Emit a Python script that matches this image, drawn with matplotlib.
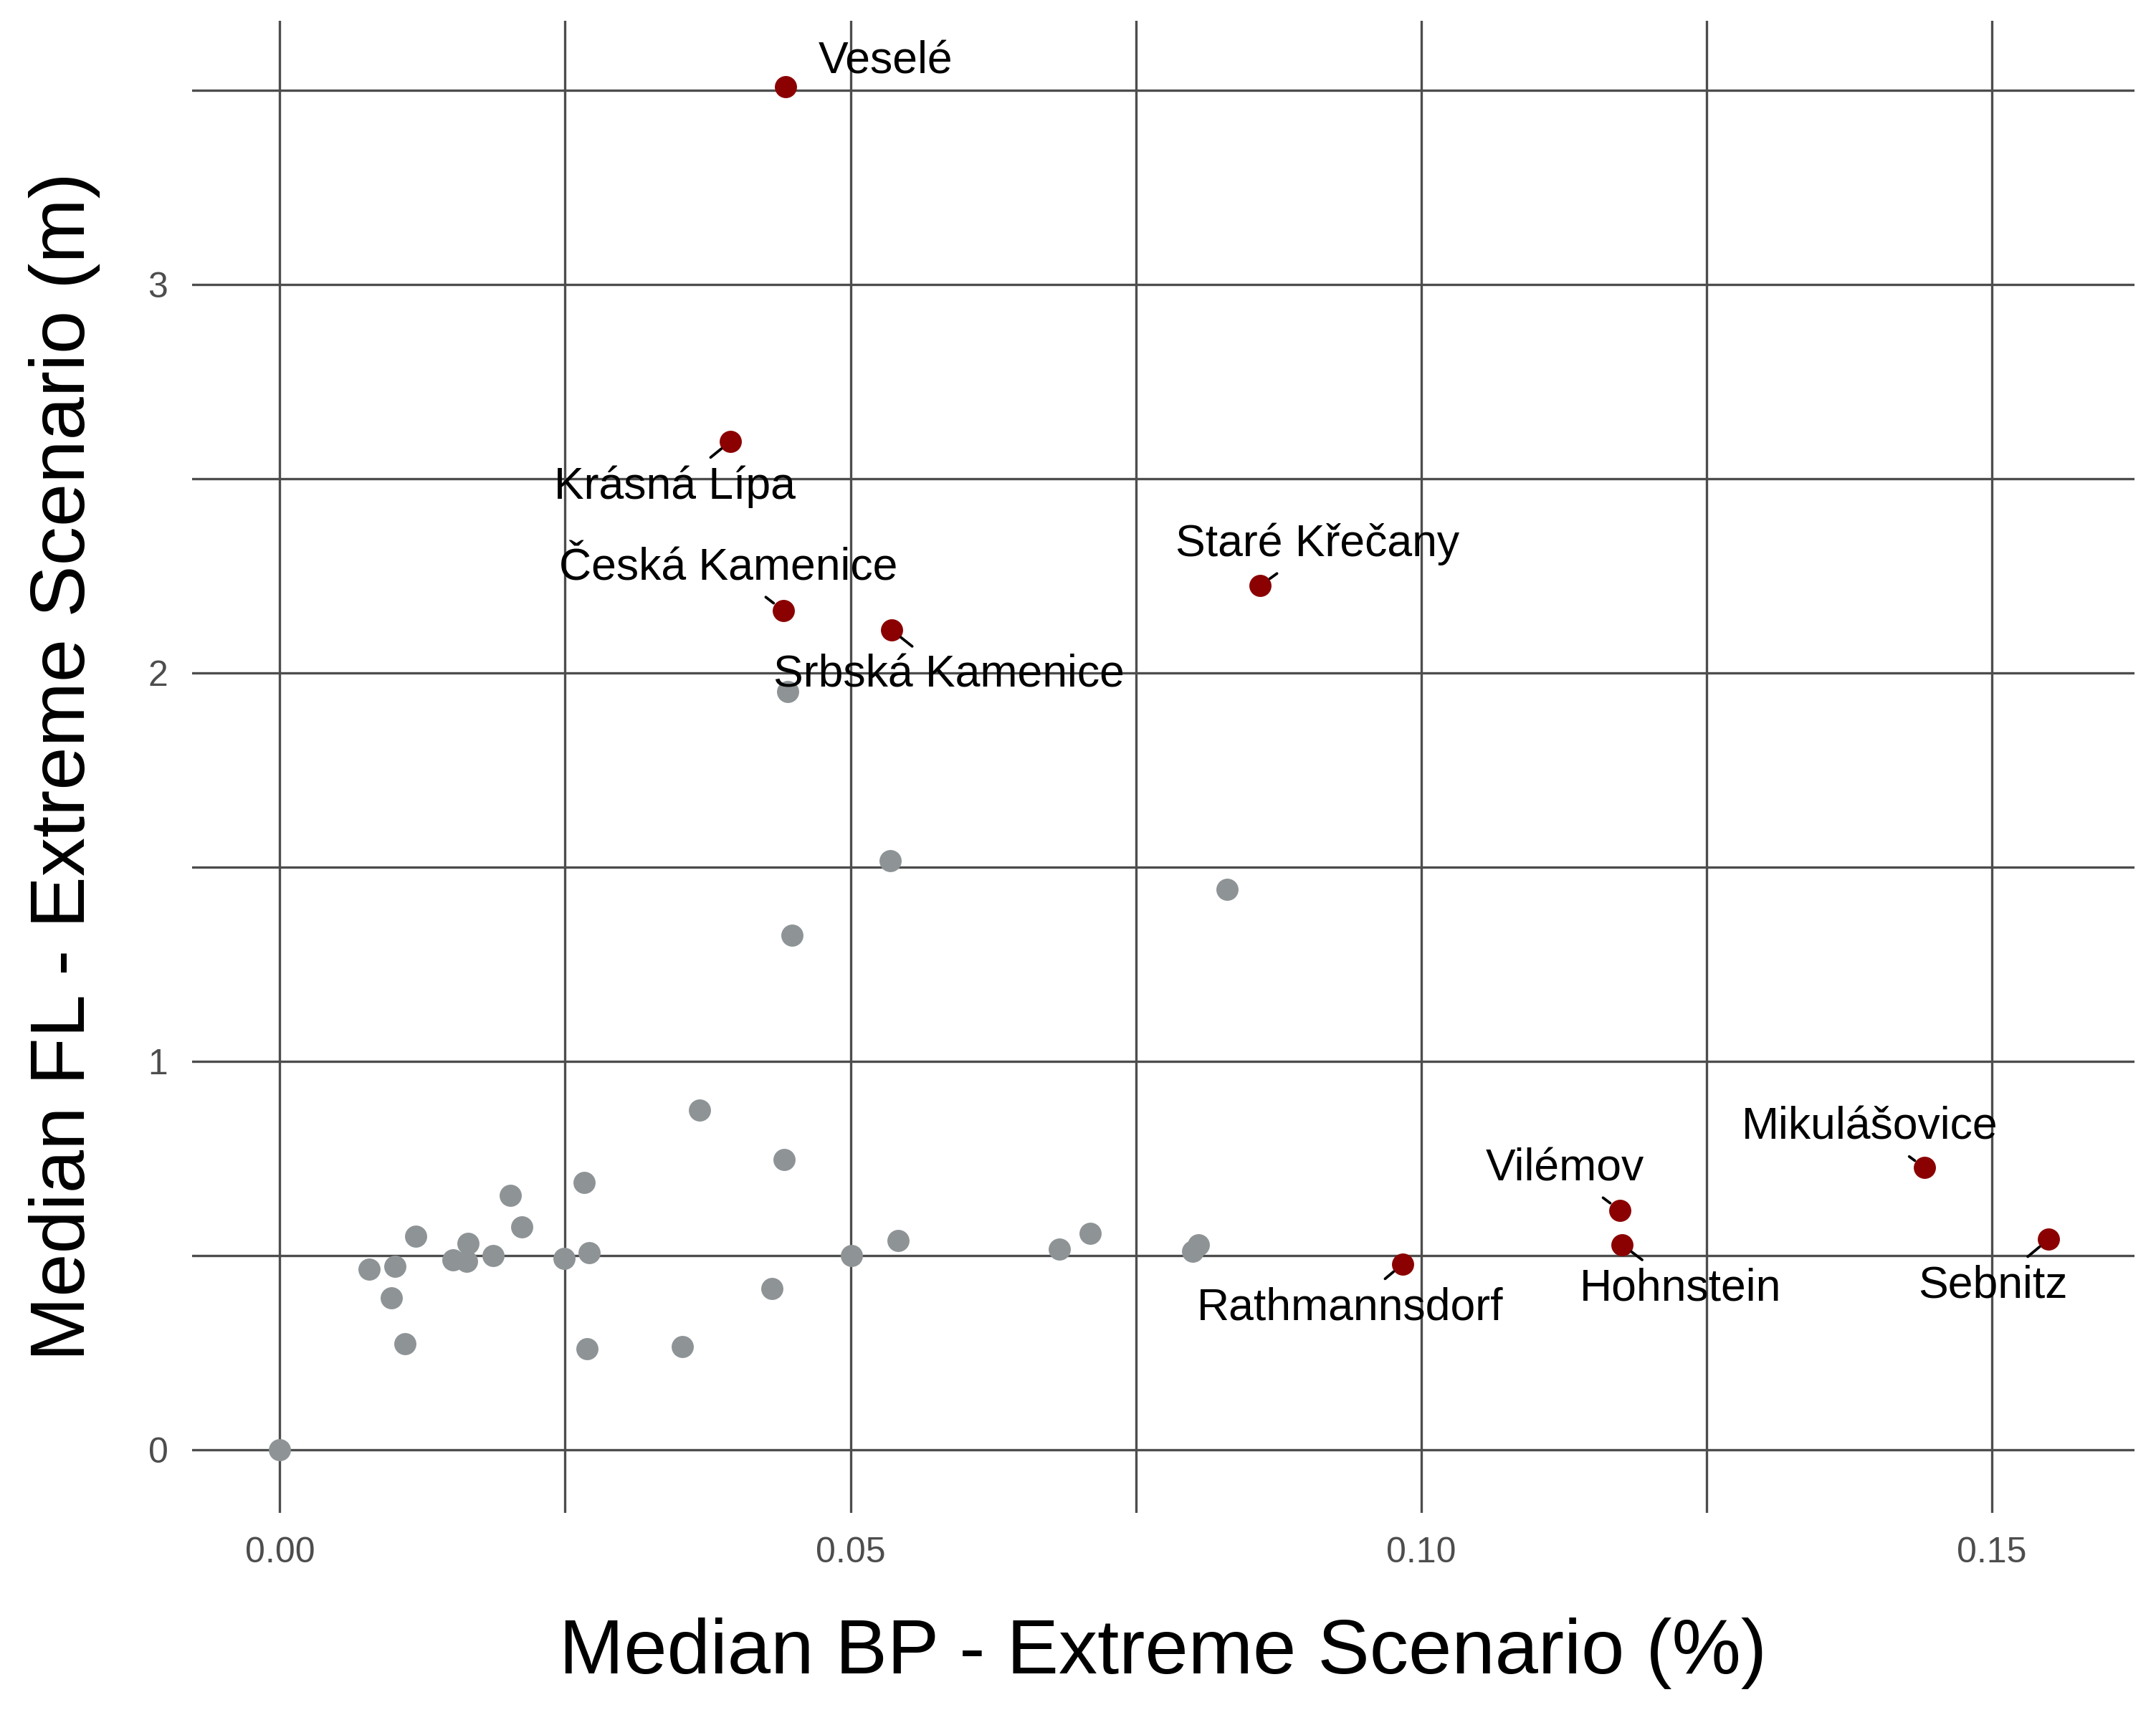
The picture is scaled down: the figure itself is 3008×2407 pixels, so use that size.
import matplotlib
matplotlib.use("Agg")
import matplotlib.pyplot as plt
plt.rcParams['font.family'] = ['Liberation Sans', 'DejaVu Sans']

gray_x = [0,0.0078,0.0101,0.0098,0.011,0.0119,0.0152,0.0165,0.0164,0.0187,0.0202,0.0212,0.0249,0.0267,0.0271,0.0269,0.0353,0.0368,0.0431,0.0442,0.0445,0.0449,0.0501,0.0535,0.0542,0.0683,0.0710,0.0800,0.0805,0.0830]
gray_y = [0,0.464,0.471,0.39,0.273,0.549,0.489,0.531,0.485,0.499,0.655,0.574,0.492,0.687,0.507,0.259,0.266,0.875,0.414,0.747,1.952,1.325,0.499,1.516,0.538,0.517,0.556,0.510,0.528,1.442]

names = ["Veselé","Krásná Lípa","Česká Kamenice","Srbská Kamenice","Staré Křečany","Rathmannsdorf","Vilémov","Hohnstein","Mikulášovice","Sebnitz"]
red_x = [0.0443,0.0395,0.0441,0.0536,0.0859,0.0984,0.1174,0.1176,0.1441,0.1550]
red_y = [3.51,2.597,2.161,2.111,2.225,0.478,0.616,0.528,0.726,0.542]
lab_x = [0.0531,0.0346,0.0393,0.0586,0.0909,0.0938,0.1126,0.1227,0.1393,0.1501]
lab_y = [3.574,2.48,2.27,1.994,2.331,0.365,0.723,0.414,0.829,0.422]

fig = plt.figure(figsize=(3008/300, 2407/300), dpi=300)
ax = fig.add_axes([0.089, 0.123, 0.901, 0.865])
gc = "#4d4d4d"
ax.set_xticks([0, 0.05, 0.10, 0.15])
ax.set_xticklabels(["0.00", "0.05", "0.10", "0.15"])
ax.set_xticks([0.025, 0.075, 0.125], minor=True)
ax.set_yticks([0, 1, 2, 3])
ax.set_yticks([0.5, 1.5, 2.5, 3.5], minor=True)
ax.grid(True, which="both", color=gc, lw=0.8)
ax.set_axisbelow(True)
for s in ax.spines.values():
    s.set_visible(False)
ax.tick_params(which="both", length=0, labelsize=12, labelcolor=gc, pad=8)
ax.set_xlim(-0.0077, 0.1625)
ax.set_ylim(-0.163, 3.68)

ax.scatter(gray_x, gray_y, s=55, color="#8e9396", zorder=3, linewidths=0)
ax.scatter(red_x, red_y, s=55, color="#8b0000", zorder=3, linewidths=0)
for n, px, py, tx, ty in zip(names, red_x, red_y, lab_x, lab_y):
    arrow = None if n == "Veselé" else dict(arrowstyle="-", color="black", lw=0.9, shrinkA=1, shrinkB=4)
    ax.annotate(n, (px, py), xytext=(tx, ty), ha="center", va="center", fontsize=15,
                arrowprops=arrow, zorder=4)

ax.set_xlabel("Median BP - Extreme Scenario (%)", fontsize=26, labelpad=16)
ax.set_ylabel("Median FL - Extreme Scenario (m)", fontsize=26, labelpad=16)
fig.savefig("out.png", dpi=300)
